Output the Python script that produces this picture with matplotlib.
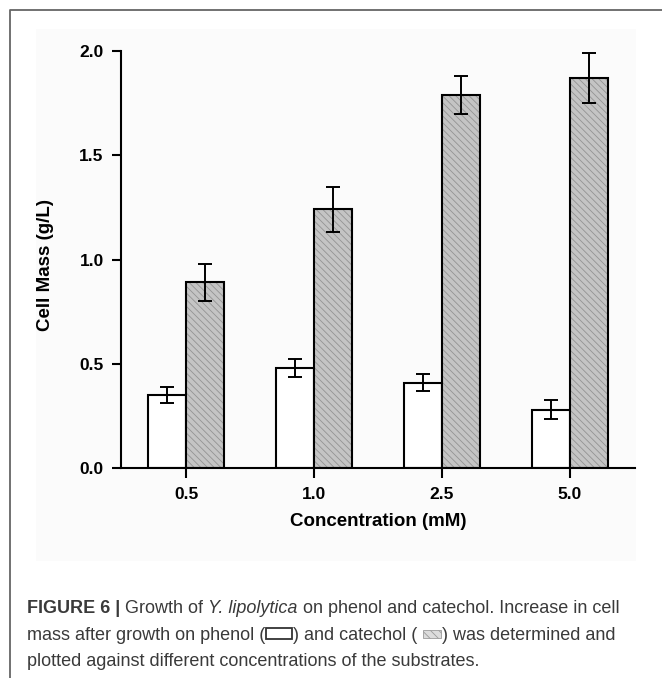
import matplotlib
matplotlib.use('Agg')
import matplotlib.pyplot as plt
from matplotlib.patches import Rectangle
from matplotlib.lines import Line2D
import numpy as np

# ---------------- data ----------------
categories = ['0.5', '1.0', '2.5', '5.0']
phenol = [0.35, 0.48, 0.41, 0.28]
phenol_err = [0.04, 0.045, 0.04, 0.045]
catechol = [0.89, 1.24, 1.79, 1.87]
catechol_err = [0.09, 0.11, 0.09, 0.12]
yticks = [0.0, 0.5, 1.0, 1.5, 2.0]
ytick_labels = ['0.0', '0.5', '1.0', '1.5', '2.0']
xlabel = 'Concentration (mM)'
ylabel = 'Cell Mass (g/L)'

plt.rcParams['font.family'] = ['Liberation Sans', 'DejaVu Sans']
plt.rcParams['hatch.linewidth'] = 0.6

W, H = 662, 678
fig = plt.figure(figsize=(W / 100, H / 100), dpi=100)
fig.patch.set_facecolor('white')

def fx(px):
    return px / W

def fy(py):
    return 1 - py / H

# panel background
fig.patches.append(Rectangle((fx(36), fy(561)), (636 - 36) / W, (561 - 29) / H,
                             transform=fig.transFigure, facecolor='#fbfbfb',
                             edgecolor='none', zorder=-5))
# frame (left and top)
fig.lines.append(Line2D([fx(10), fx(10), fx(662)], [fy(678), fy(10), fy(10)],
                        transform=fig.transFigure, color='#666666', lw=1.3, zorder=-4))

# axes
ax_left, ax_right, ax_top, ax_bot = 121, 635, 51, 468
ax = fig.add_axes([fx(ax_left), fy(ax_bot), (ax_right - ax_left) / W, (ax_bot - ax_top) / H])
ax.set_facecolor('none')
ax.set_zorder(2)

x = np.arange(len(categories))
bw = 0.3
hatch_fill = '#c4c4c4'
hatch_line = '#939393'

ax.bar(x - bw / 2, phenol, width=bw, facecolor='white', edgecolor='black', linewidth=1.5, zorder=2)
# hatched bars: fill+hatch layer, then black outline layer
ax.bar(x + bw / 2, catechol, width=bw, facecolor=hatch_fill, edgecolor=hatch_line,
       linewidth=0, hatch='\\\\\\\\\\', zorder=2)
ax.bar(x + bw / 2, catechol, width=bw, facecolor='none', edgecolor='black', linewidth=1.5, zorder=3)

ax.errorbar(x - bw / 2, phenol, yerr=phenol_err, fmt='none', ecolor='black',
            elinewidth=1.4, capsize=4.8, capthick=1.4, zorder=4)
ax.errorbar(x + bw / 2, catechol, yerr=catechol_err, fmt='none', ecolor='black',
            elinewidth=1.4, capsize=4.8, capthick=1.4, zorder=4)

ax.set_xlim(-0.508, 3.508)
ax.set_ylim(0, 2.0)
ax.set_xticks(x)
ax.set_xticklabels(categories, fontsize=12.5, fontweight='bold')
ax.set_yticks(yticks)
ax.set_yticklabels(ytick_labels, fontsize=12.5, fontweight='bold')
for s in ['top', 'right']:
    ax.spines[s].set_visible(False)
for s in ['left', 'bottom']:
    ax.spines[s].set_linewidth(1.5)
ax.tick_params(axis='y', direction='out', length=6.5, width=1.5, pad=6)
ax.tick_params(axis='x', direction='out', length=7.5, width=1.5, pad=6)

ax.set_xlabel(xlabel, fontsize=13.5, fontweight='bold')
ax.xaxis.set_label_coords(0.5, (ax_bot - 521) / (ax_bot - ax_top), transform=ax.transAxes)
ax.set_ylabel(ylabel, fontsize=13.5, fontweight='bold')
ax.yaxis.set_label_coords((45 - ax_left) / (ax_right - ax_left), 0.5 - (265 - 259.5) / (ax_bot - ax_top))
ax.xaxis.label.set_va('center')
ax.yaxis.label.set_va('center')

# ---------------- caption ----------------
renderer = fig.canvas.get_renderer()
cap_color = '#3a3a3a'

def measure(s, weight='normal', style='normal', fs=10.0):
    t = fig.text(0, 0, s, fontsize=fs, fontweight=weight, style=style)
    w = t.get_window_extent(renderer).width
    t.remove()
    return w

line1 = [('t', 'FIGURE 6 |', 'bold', 'normal'), ('t', 'Growth of', 'normal', 'normal'),
         ('t', 'Y. lipolytica', 'normal', 'italic'),
         ('t', 'on phenol and catechol. Increase in cell', 'normal', 'normal')]
line2 = [('t', 'mass after growth on phenol (', 'normal', 'normal'), ('box', 'empty'),
         ('t', ') and catechol (', 'normal', 'normal'), ('box', 'hatch'),
         ('t', ') was determined and', 'normal', 'normal')]
line3 = [('t', 'plotted against different concentrations of the substrates.', 'normal', 'normal')]

# scale caption font so that line 1 spans the same width as in the reference
base = 10.0
sp = measure('a a', fs=base) - measure('aa', fs=base)
w1 = sum(measure(p[1], p[2], p[3], base) for p in line1) + sp * (len(line1) - 1)
cap_fs = base * 593.0 / w1
space_w = measure('a a', fs=cap_fs) - measure('aa', fs=cap_fs)

def draw_line(pieces, x0, baseline):
    xp = x0
    for i, p in enumerate(pieces):
        if p[0] == 't':
            s, wgt, sty = p[1], p[2], p[3]
            fig.text(fx(xp), fy(baseline), s, fontsize=cap_fs, fontweight=wgt, style=sty,
                     color=cap_color, ha='left', va='baseline')
            xp += measure(s, wgt, sty, cap_fs)
            nxt = pieces[i + 1] if i + 1 < len(pieces) else None
            if nxt is not None and nxt[0] == 't':
                xp += space_w
        else:
            if p[1] == 'empty':
                bw_, bh_ = 26, 11
                fig.patches.append(Rectangle((fx(xp + 1), fy(baseline - 0.5)), bw_ / W, bh_ / H,
                                             transform=fig.transFigure, facecolor='white',
                                             edgecolor='#333333', lw=1.3))
                xp += bw_ + 2
            else:
                xp += space_w * 0.8
                bw_, bh_ = 18, 8
                fig.patches.append(Rectangle((fx(xp + 1), fy(baseline - 2)), bw_ / W, bh_ / H,
                                             transform=fig.transFigure, facecolor='#dcdcdc',
                                             edgecolor='#9a9a9a', lw=0.6, hatch='\\\\\\\\'))
                xp += bw_ + 2

draw_line(line1, 27, 613)
draw_line(line2, 27, 639.5)
draw_line(line3, 27, 666)

fig.savefig('out.png', dpi=100, facecolor='white')
